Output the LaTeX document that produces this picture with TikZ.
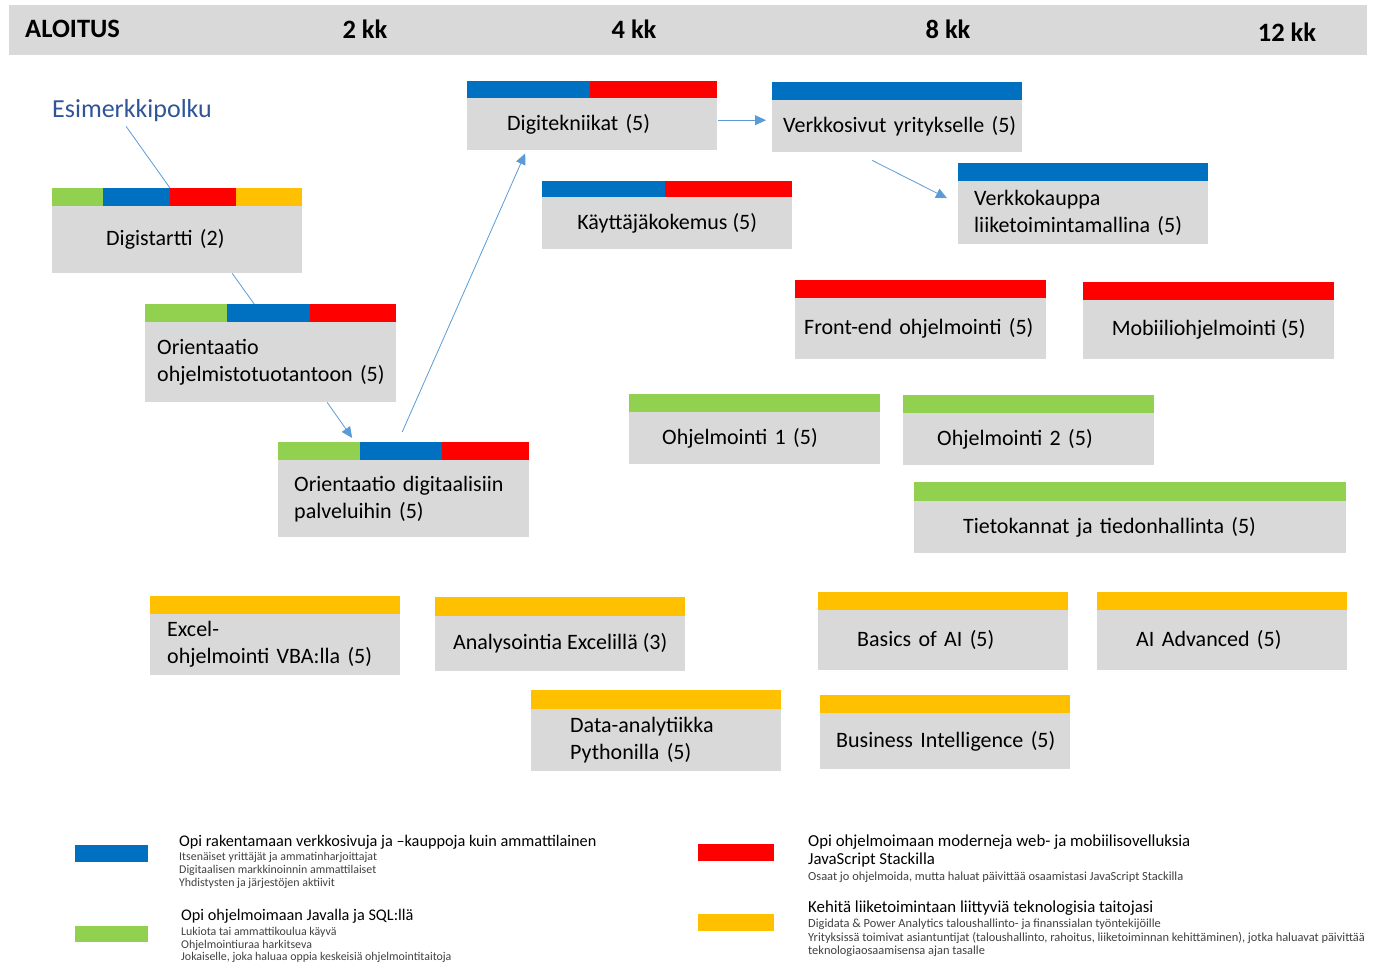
\documentclass[tikz,border=0pt]{standalone}
\usepackage{fontspec}
\setmainfont{Carlito}
\usepackage{tikz}
\usetikzlibrary{arrows.meta}
\definecolor{cblue}{HTML}{0070C0}
\definecolor{cred}{HTML}{FF0000}
\definecolor{cgreen}{HTML}{92D050}
\definecolor{cyellow}{HTML}{FFC000}
\definecolor{boxgray}{HTML}{D9D9D9}
\definecolor{linkblue}{HTML}{5B9BD5}
\definecolor{pathblue}{HTML}{2F5597}
\definecolor{subgray}{HTML}{404040}

\begin{document}
\begin{tikzpicture}
  [
    x=1pt, y=-1pt,
    course/.style={
       fill=boxgray,
       anchor=north west,
       inner sep=0pt,
       minimum width=250pt,
       font=\fontsize{22}{27}\selectfont
    },
    lefttext/.style={
       align=left,
       inner xsep=12pt,
       text width=226pt
    },
    head/.style={
       font=\fontsize{26.5}{30}\selectfont\bfseries
    },
    legend/.style={
       anchor=base west,
       align=left,
       inner sep=0pt
    },
    ln/.style={
       draw=linkblue,
       line width=0.8pt
    },
    ar/.style={
       ln,
       -{Triangle[width=10pt,length=11pt]}
    }
  ]
  \useasboundingbox (0,0) rectangle (1374,963);

  % time line
  \node (header) at (9,5) [fill=boxgray, anchor=north west, minimum width=1358pt, minimum height=50pt, inner sep=0pt] {};
  \node (t0)  at (25,29)   [head, anchor=west, inner xsep=0pt] {ALOITUS};
  \node (t2)  at (365,29)  [head] {2 kk};
  \node (t4)  at (634,29)  [head] {4 kk};
  \node (t8)  at (948,29)  [head] {8 kk};
  \node (t12) at (1287,32) [head] {12 kk};

  \node (esim) at (52,111) [anchor=west, inner sep=0pt, text=pathblue, font=\fontsize{26}{30}\selectfont] {Esimerkkipolku};

  % course boxes
  \node (dstart) at (52,206)  [course, lefttext, inner xsep=54pt, text width=142pt, minimum height=67pt] {Digistartti (2)};
  \fill[cgreen]  (52,188)  rectangle (103,206);
  \fill[cblue]   (103,188) rectangle (170,206);
  \fill[cred]    (170,188) rectangle (236,206);
  \fill[cyellow] (236,188) rectangle (302,206);
  \coordinate (dstop) at (170,188);

  \node (oohj) at (145,322) [course, lefttext, text width=227pt, minimum height=80pt] {Orientaatio\\\mbox{ohjelmistotuotantoon (5)}};
  \fill[cgreen]  (145,304) rectangle (227,322);
  \fill[cblue]   (227,304) rectangle (310,322);
  \fill[cred]    (310,304) rectangle (396,322);

  \node (odig) at (278,460) [course, lefttext, inner xsep=16pt, text width=219pt, minimum height=77pt] {Orientaatio digitaalisiin\\palveluihin (5)};
  \fill[cgreen]  (278,442) rectangle (360,460);
  \fill[cblue]   (360,442) rectangle (442,460);
  \fill[cred]    (442,442) rectangle (529,460);

  \node (digi) at (467,98) [course, lefttext, inner xsep=40pt, text width=170pt, minimum height=52pt] {Digitekniikat (5)};
  \fill[cblue]   (467,81) rectangle (590,98);
  \fill[cred]    (590,81) rectangle (717,98);

  \node (verk) at (772,100) [course, lefttext, inner xsep=11pt, text width=228pt, minimum height=52pt] {\mbox{Verkkosivut yritykselle (5)}};
  \fill[cblue]   (772,82) rectangle (1022,100);

  \node (vkau) at (958,181) [course, lefttext, inner xsep=16pt, text width=218pt, minimum height=63pt] {Verkkokauppa\\liiketoimintamallina (5)};
  \fill[cblue]   (958,163) rectangle (1208,181);

  \node (kaytt) at (542,197) [course, minimum height=52pt] {Käyttäjäkokemus (5)};
  \fill[cblue]   (542,181) rectangle (665,197);
  \fill[cred]    (665,181) rectangle (792,197);

  \node (front) at (795,298) [course, lefttext, inner xsep=9pt, text width=233pt, minimum height=61pt] {\mbox{Front-end ohjelmointi (5)}};
  \fill[cred]    (795,280) rectangle (1046,298);

  \node (mobi) at (1083,300) [course, minimum width=251pt, minimum height=59pt] {Mobiiliohjelmointi (5)};
  \fill[cred]    (1083,282) rectangle (1334,300);

  \node (ohj1) at (629,412) [course, lefttext, inner xsep=33pt, text width=185pt, minimum height=52pt] {Ohjelmointi 1 (5)};
  \fill[cgreen]  (629,394) rectangle (880,412);

  \node (ohj2) at (903,413) [course, lefttext, inner xsep=34pt, text width=183pt, minimum height=52pt] {Ohjelmointi 2 (5)};
  \fill[cgreen]  (903,395) rectangle (1154,413);

  \node (tieto) at (914,501) [course, lefttext, inner xsep=49pt, text width=334pt, minimum height=52pt] {Tietokannat ja tiedonhallinta (5)};
  \fill[cgreen]  (914,482) rectangle (1346,501);

  \node (excel) at (150,614) [course, lefttext, inner xsep=17pt, text width=216pt, minimum height=61pt] {Excel-\\ohjelmointi VBA:lla (5)};
  \fill[cyellow] (150,596) rectangle (400,614);

  \node (analy) at (435,616) [course, minimum height=55pt] {Analysointia Excelillä (3)};
  \fill[cyellow] (435,597) rectangle (685,616);

  \node (datan) at (531,709) [course, lefttext, inner xsep=39pt, text width=172pt, minimum height=62pt] {Data-analytiikka\\Pythonilla (5)};
  \fill[cyellow] (531,690) rectangle (781,709);

  \node (basai) at (818,610) [course, lefttext, inner xsep=39pt, text width=172pt, minimum height=60pt] {Basics of AI (5)};
  \fill[cyellow] (818,592) rectangle (1068,610);

  \node (advai) at (1097,610) [course, lefttext, inner xsep=39pt, text width=172pt, minimum height=60pt] {AI Advanced (5)};
  \fill[cyellow] (1097,592) rectangle (1347,610);

  \node (busin) at (820,713) [course, lefttext, inner xsep=16pt, text width=218pt, minimum height=56pt] {\mbox{Business Intelligence (5)}};
  \fill[cyellow] (820,695) rectangle (1070,713);

  % example path
  \draw[ln] ([xshift=-6pt,yshift=-4pt]esim.south) -- (dstop);
  \draw[ln] ([xshift=55pt]dstart.south) -- ([xshift=-16.5pt,yshift=18pt]oohj.north);
  \draw[ar] ([xshift=56.5pt]oohj.south) -- ([xshift=-51.5pt,yshift=22pt]odig.north);
  \draw[ar] ([xshift=-1.5pt,yshift=28pt]odig.north) -- ([xshift=-67pt,yshift=-3pt]digi.south);
  \draw[ar] ([xshift=1pt,yshift=4pt]digi.east) -- ([xshift=-6pt,yshift=6pt]verk.west);
  \draw[ar] ([xshift=-25pt,yshift=-8pt]verk.south) -- ([xshift=-11pt,yshift=14.5pt]vkau.west);

  % legend
  \fill[cblue]   (75,845)  rectangle (148,862);
  \fill[cgreen]  (75,926)  rectangle (148,942);
  \fill[cred]    (698,844) rectangle (774,861);
  \fill[cyellow] (698,914) rectangle (774,931);

  \node (lblue) at (179,886.5) [legend, font=\fontsize{11.9}{13}\selectfont] {{\fontsize{16.25}{13}\selectfont Opi rakentamaan verkkosivuja ja –kauppoja kuin ammattilainen}\\[1.5pt]
    \textcolor{subgray}{Itsenäiset yrittäjät ja ammatinharjoittajat}\\
    \textcolor{subgray}{Digitaalisen markkinoinnin ammattilaiset}\\
    \textcolor{subgray}{Yhdistysten ja järjestöjen aktiivit}};

  \node (lgreen) at (181,960.5) [legend, font=\fontsize{11.9}{13}\selectfont] {{\fontsize{16.25}{13}\selectfont Opi ohjelmoimaan Javalla ja SQL:llä}\\[1.5pt]
    \textcolor{subgray}{Lukiota tai ammattikoulua käyvä}\\[0.5pt]
    \textcolor{subgray}{Ohjelmointiuraa harkitseva}\\[-1pt]
    \textcolor{subgray}{Jokaiselle, joka haluaa oppia keskeisiä ohjelmointitaitoja}};

  \node (lred) at (808,880) [legend, font=\fontsize{12.4}{15.5}\selectfont] {{\fontsize{16.8}{15.5}\selectfont Opi ohjelmoimaan moderneja web- ja mobiilisovelluksia}\\[2.5pt]
    {\fontsize{16.8}{15.5}\selectfont JavaScript Stackilla}\\
    \textcolor{subgray}{Osaat jo ohjelmoida, mutta haluat päivittää osaamistasi JavaScript Stackilla}};

  \node (lyellow) at (808,954.5) [legend, font=\fontsize{12.4}{13.5}\selectfont] {{\fontsize{16.8}{13.5}\selectfont Kehitä liiketoimintaan liittyviä teknologisia taitojasi}\\[2pt]
    \textcolor{subgray}{Digidata \& Power Analytics taloushallinto- ja finanssialan työntekijöille}\\
    \textcolor{subgray}{Yrityksissä toimivat asiantuntijat (taloushallinto, rahoitus, liiketoiminnan kehittäminen), jotka haluavat päivittää}\\
    \textcolor{subgray}{teknologiaosaamisensa ajan tasalle}};
\end{tikzpicture}
\end{document}
